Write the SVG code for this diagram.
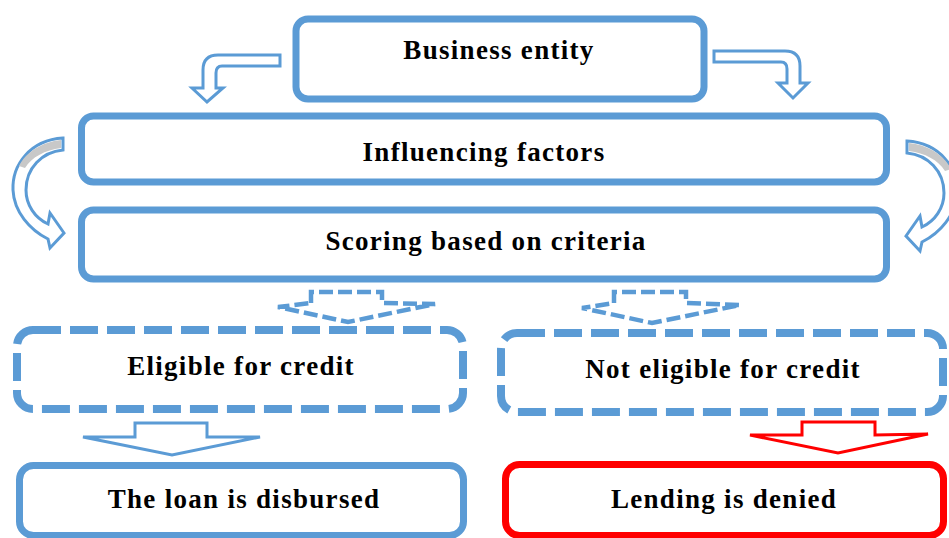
<svg xmlns="http://www.w3.org/2000/svg" width="949" height="538" viewBox="0 0 949 538">
  <style>
    .box { fill: #ffffff; stroke: #5b9bd5; stroke-width: 7; }
    .box-red { fill: #ffffff; stroke: #ff0000; stroke-width: 7; }
    .box-dash { fill: #ffffff; stroke: #5b9bd5; stroke-width: 8; stroke-dasharray: 28 9; }
    .label { font-family: "Liberation Serif", "Times New Roman", serif; font-weight: bold; font-size: 27px; letter-spacing: 1.3px; fill: #000000; text-anchor: middle; }
    .arrow { fill: #ffffff; stroke: #5b9bd5; stroke-width: 3; stroke-linejoin: miter; }
    .arrow-dash { fill: #ffffff; stroke: #5b9bd5; stroke-width: 4.5; stroke-dasharray: 14 5; }
    .arrow-red { fill: #ffffff; stroke: #ff0000; stroke-width: 3; }
    .back { fill: #c8c8c8; stroke: none; }
  </style>

  <!-- connectors -->
  <g id="connectors">
    <!-- bent arrow: business entity to the left -->
    <path class="arrow" d="M 280,55 L 280,66 L 222,66 Q 216,66 216,73 L 216,88 L 223,88 L 207,102 L 192,88 L 203,88 L 203,70 Q 203,55 218,55 Z"/>
    <!-- bent arrow: business entity to the right -->
    <path class="arrow" d="M 714,51 L 714,62 L 781,62 Q 787,62 787,69 L 787,83 L 778,83 L 793,98 L 808,83 L 800,83 L 800,66 Q 800,51 785,51 Z"/>

    <!-- curved arrow on the left: influencing factors to scoring -->
    <g id="curve-left">
      <path class="arrow" d="M 63,138 C 30,140 12,165 13,190 C 14,212 30,230 48,239 L 50,248 L 64,233 L 50,213 L 48,224 C 35,218 26,205 26,190 C 26,168 42,152 63,150 Z"/>
      <path class="back" d="M 61,140 C 42,142 26,152 19,166 L 25,168 C 32,157 45,150 61,148 Z"/>
    </g>
    <!-- curved arrow on the right, mirrored -->
    <g id="curve-right" transform="translate(970,3) scale(-1,1)">
      <path class="arrow" d="M 63,138 C 30,140 12,165 13,190 C 14,212 30,230 48,239 L 50,248 L 64,233 L 50,213 L 48,224 C 35,218 26,205 26,190 C 26,168 42,152 63,150 Z"/>
      <path class="back" d="M 61,140 C 42,142 26,152 19,166 L 25,168 C 32,157 45,150 61,148 Z"/>
    </g>

    <!-- dashed arrows from scoring to outcomes -->
    <path class="arrow-dash" d="M 311,303 L 311,292 L 382,292 L 382,303 L 435,304 L 348,322 L 278,307 Z"/>
    <path class="arrow-dash" d="M 614,303 L 614,292 L 686,292 L 686,303 L 740,305 L 652,323 L 582,308 Z"/>

    <!-- eligible to disbursed -->
    <path class="arrow" d="M 135,437 L 135,423 L 207,423 L 207,437 L 260,437 L 172,455 L 83,437 Z"/>
    <!-- not eligible to denied -->
    <path class="arrow-red" d="M 802,435 L 802,422 L 875,422 L 875,435 L 928,434 L 838,453 L 750,435 Z"/>
  </g>

  <g id="business-entity">
    <rect class="box" x="296" y="19" width="408" height="80" rx="12"/>
    <text class="label" x="499" y="59">Business entity</text>
  </g>

  <g id="influencing-factors">
    <rect class="box" x="81.5" y="116" width="805" height="66" rx="12"/>
    <text class="label" x="484" y="161">Influencing factors</text>
  </g>

  <g id="scoring">
    <rect class="box" x="81.5" y="210" width="805" height="69" rx="12"/>
    <text class="label" x="486" y="250">Scoring based on criteria</text>
  </g>

  <g id="eligible">
    <rect class="box-dash" x="17" y="330" width="446" height="79" rx="16"/>
    <text class="label" x="241" y="375">Eligible for credit</text>
  </g>

  <g id="not-eligible">
    <rect class="box-dash" x="501" y="333" width="442" height="79" rx="16"/>
    <text class="label" x="723" y="378">Not eligible for credit</text>
  </g>

  <g id="disbursed">
    <rect class="box" x="19.5" y="465.5" width="444" height="70" rx="14"/>
    <text class="label" x="244" y="508">The loan is disbursed</text>
  </g>

  <g id="denied">
    <rect class="box-red" x="505.5" y="464.5" width="438" height="71" rx="14"/>
    <text class="label" x="724" y="508">Lending is denied</text>
  </g>
</svg>
